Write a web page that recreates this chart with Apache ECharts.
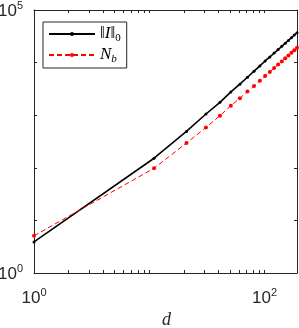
<!DOCTYPE html>
<html><head><meta charset="utf-8">
<script src="https://cdn.jsdelivr.net/npm/echarts@6/dist/echarts.min.js"></script>
<style>html,body{margin:0;padding:0;background:#fff}#c{width:299px;height:328px}</style>
</head><body><div id="c"></div>
<script>
const dValues = [1, 11, 21, 31, 41, 51, 61, 71, 81, 91, 101, 111, 121, 131, 141, 151, 161, 171, 181, 191];
const normI0 = [3.9, 152, 491, 1054, 1756, 2772, 3890, 5260, 6860, 8650, 10740, 12790, 15180, 17700, 20380, 23350, 26400, 29720, 33340, 37070];
const Nb = [5.1, 98, 295, 585, 977, 1518, 2100, 2810, 3610, 4510, 5550, 6620, 7860, 9160, 10540, 12080, 13720, 15380, 17260, 19150];
const xTickValues = [1,2,3,4,5,6,7,8,9,10,20,30,40,50,60,70,80,90,100];
const xLabelValues = [1, 100];
const yTickValues = [1, 10, 100, 1000, 10000, 100000];
const yLabelValues = [1, 100000];
const seriesNames = ['normI0', 'Nb'];
const xAxisTitle = 'd';

const pow10 = v => '{b|10}{s|' + Math.round(Math.log10(v)) + '}';
const labelRich = {
  b: {fontSize: 17, lineHeight: 20, verticalAlign: 'bottom', fontFamily: 'Liberation Sans, Arial, sans-serif', color: '#262626'},
  s: {fontSize: 11, lineHeight: 11, verticalAlign: 'top', fontFamily: 'Liberation Sans, Arial, sans-serif', color: '#262626'}
};
const axisCol = '#262626';
const X_MIN = 1, X_MAX = 191, Y_MIN = 1, Y_MAX = 100000;

function xAxisCfg(pos, showLabel) {
  return {
    type: 'log', logBase: 10, min: X_MIN, max: X_MAX, position: pos,
    axisLine: {show: true, onZero: false, lineStyle: {color: axisCol, width: 1}},
    axisTick: {show: true, inside: true, length: 3, customValues: xTickValues, lineStyle: {color: axisCol}},
    axisLabel: {show: showLabel, customValues: xLabelValues, formatter: pow10, rich: labelRich, margin: 14, hideOverlap: false},
    splitLine: {show: false}, minorTick: {show: false}
  };
}
function yAxisCfg(pos, showLabel) {
  return {
    type: 'log', logBase: 10, min: Y_MIN, max: Y_MAX, position: pos,
    axisLine: {show: true, onZero: false, lineStyle: {color: axisCol, width: 1}},
    axisTick: {show: true, inside: true, length: 3, customValues: yTickValues, lineStyle: {color: axisCol}},
    axisLabel: {show: showLabel, customValues: yLabelValues, formatter: pow10, rich: labelRich, margin: 11, hideOverlap: false},
    splitLine: {show: false}, minorTick: {show: false}
  };
}

const chart = echarts.init(document.getElementById('c'), null, {renderer: 'canvas'});
chart.setOption({
  animation: false,
  backgroundColor: '#fff',
  title: {
    text: xAxisTitle, left: 162, top: 311, padding: 0,
    textStyle: {fontFamily: 'Liberation Serif, DejaVu Serif, serif', fontStyle: 'italic', fontWeight: 'normal', fontSize: 18, color: axisCol}
  },
  grid: {left: 34, right: 2, top: 10, bottom: 55, containLabel: false, outerBoundsMode: 'none'},
  xAxis: [xAxisCfg('bottom', true), xAxisCfg('top', false)],
  yAxis: [yAxisCfg('left', true), yAxisCfg('right', false)],
  legend: {
    left: 43, top: 22, orient: 'vertical',
    backgroundColor: '#fff', borderColor: axisCol, borderWidth: 1,
    padding: [3, 6, 3, 5], itemGap: 2, itemWidth: 46, itemHeight: 5,
    data: seriesNames,
    formatter: function (n) {
      return n === 'normI0' ? '{n|‖}{i|I}{n|‖}{sub|0}' : '{i|N}{isub|b}';
    },
    textStyle: {
      rich: {
        n: {fontSize: 17, lineHeight: 18, verticalAlign: 'top', fontFamily: 'Liberation Serif, serif', color: '#000'},
        i: {fontSize: 17, lineHeight: 18, verticalAlign: 'top', fontFamily: 'Liberation Serif, serif', fontStyle: 'italic', color: '#000'},
        sub: {fontSize: 11, lineHeight: 11, verticalAlign: 'bottom', fontFamily: 'Liberation Serif, serif', color: '#000', padding: [0, 0, -1, 0]},
        isub: {fontSize: 11, lineHeight: 11, verticalAlign: 'bottom', fontFamily: 'Liberation Serif, serif', fontStyle: 'italic', color: '#000', padding: [0, 0, -1, 0]}
      }
    }
  },
  series: [
    {
      name: 'normI0', type: 'line', xAxisIndex: 0, yAxisIndex: 0,
      data: dValues.map((d, i) => [d, normI0[i]]),
      lineStyle: {color: '#000', width: 1.6},
      itemStyle: {color: '#000'},
      symbol: 'circle', symbolSize: 3, showSymbol: true
    },
    {
      name: 'Nb', type: 'line', xAxisIndex: 0, yAxisIndex: 0,
      data: dValues.map((d, i) => [d, Nb[i]]),
      lineStyle: {color: '#ff0000', width: 1, type: [5, 3]},
      itemStyle: {color: '#ff0000'},
      symbol: 'circle', symbolSize: 4, showSymbol: true
    }
  ]
});
</script></body></html>
